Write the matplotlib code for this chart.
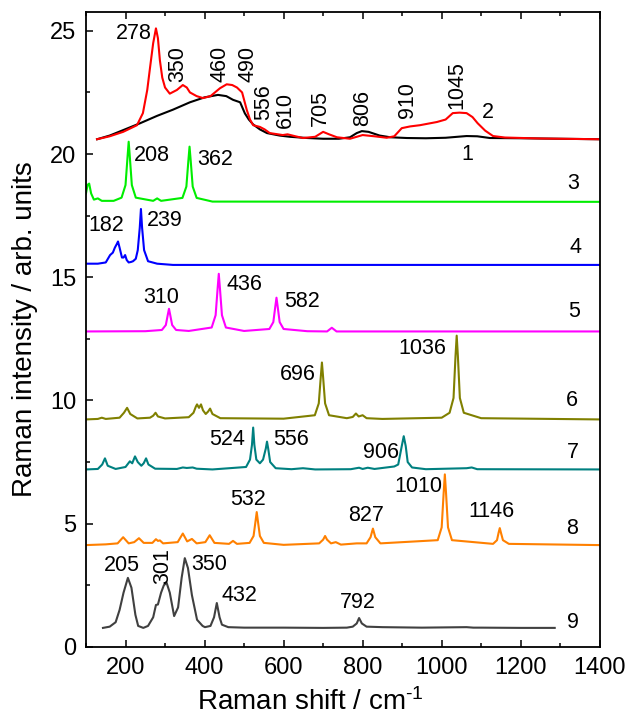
import matplotlib
matplotlib.use("Agg")
import matplotlib.pyplot as plt
from matplotlib.ticker import MultipleLocator

plt.rcParams['font.family'] = ['Liberation Sans', 'DejaVu Sans']
plt.rcParams['mathtext.fontset'] = 'custom'
plt.rcParams['mathtext.rm'] = 'Liberation Sans'
plt.rcParams['mathtext.default'] = 'regular'

# spectrum 1 (black)
x1 = [128, 160, 194, 237, 280, 320, 363, 400, 434, 455, 472, 490, 502, 512, 523, 540, 558, 590, 616, 660,
      700, 740, 768, 785, 798, 815, 843, 870, 912, 960, 1010, 1040, 1063, 1090, 1122, 1200, 1300, 1400]
y1 = [20.6, 20.75, 20.97, 21.25, 21.55, 21.8, 22.1, 22.3, 22.4, 22.35, 22.2, 22.1, 21.65, 21.4, 21.2, 21.0, 20.85, 20.75, 20.7, 20.65,
      20.62, 20.62, 20.68, 20.85, 20.93, 20.9, 20.75, 20.68, 20.65, 20.64, 20.66, 20.7, 20.73, 20.72, 20.65, 20.64, 20.62, 20.6]

# spectrum 2 (red)
x2 = [128, 160, 194, 229, 244, 255, 262, 270, 277, 282, 287, 293, 300, 312, 330, 345, 355, 363, 380, 396,
      415, 439, 456, 470, 482, 495, 507, 515, 523, 540, 552, 565, 598, 610, 630, 649, 680, 700, 715, 735,
      768, 800, 830, 861, 880, 899, 920, 945, 988, 1010, 1028, 1045, 1063, 1078, 1091, 1110, 1130, 1160, 1250, 1400]
y2 = [20.6, 20.72, 20.9, 21.17, 21.66, 22.6, 23.5, 24.5, 25.1, 24.7, 23.8, 23.1, 22.7, 22.45, 22.6, 22.8, 22.7, 22.5, 22.35, 22.27,
      22.35, 22.67, 22.83, 22.8, 22.7, 22.5, 21.78, 21.4, 21.17, 21.1, 21.0, 20.85, 20.77, 20.8, 20.72, 20.65, 20.7, 20.9, 20.8, 20.68,
      20.62, 20.77, 20.72, 20.66, 20.72, 21.05, 21.12, 21.17, 21.3, 21.4, 21.66, 21.68, 21.66, 21.5, 21.25, 20.95, 20.73, 20.67, 20.63, 20.6]

# spectrum 3 (green)
x3 = [100, 104, 108, 113, 120, 130, 140, 170, 190, 200, 205, 208, 211, 216, 226, 270, 280, 290,
      344, 354, 359, 362, 365, 370, 380, 420, 1400]
y3 = [18.4, 18.75, 18.8, 18.4, 18.15, 18.2, 18.1, 18.1, 18.23, 18.74, 19.86, 20.5, 19.86, 18.74, 18.23, 18.1, 18.2, 18.1,
      18.22, 18.68, 19.72, 20.3, 19.72, 18.68, 18.22, 18.07, 18.06]

# spectrum 4 (blue)
x4 = [100, 130, 150, 161, 168, 173, 178, 181, 185, 191, 195, 199, 203, 208, 214, 219, 226, 231, 236, 239,
      242, 247, 257, 280, 320, 1400]
y4 = [15.55, 15.55, 15.6, 15.9, 16.0, 16.2, 16.35, 16.45, 16.2, 15.8, 15.8, 15.9, 15.7, 15.6, 15.62, 15.65, 15.75, 16.1, 17.0, 17.77,
      17.0, 16.1, 15.65, 15.55, 15.5, 15.5]

# spectrum 5 (magenta)
x5 = [100, 250, 292, 302, 307, 310, 313, 318, 328, 360, 418, 428, 433, 436, 439, 444, 454, 500,
      564, 574, 579, 582, 585, 590, 600, 660, 710, 722, 734, 800, 1400]
y5 = [12.8, 12.81, 12.86, 13.06, 13.48, 13.72, 13.48, 13.06, 12.86, 12.82, 12.96, 13.46, 14.53, 15.14, 14.53, 13.46, 12.96, 12.82,
      12.9, 13.18, 13.81, 14.17, 13.81, 13.18, 12.9, 12.81, 12.8, 12.95, 12.8, 12.8, 12.8]

# spectrum 6 (olive)
x6 = [100, 130, 140, 150, 185, 196, 204, 212, 230, 262, 270, 276, 282, 300,
      360, 372, 378, 381, 386, 391, 396, 403, 409, 414, 420, 440,
      600, 679, 689, 694, 697, 700, 705, 715, 760, 775, 783, 790, 800, 810, 850,
      1000, 1020, 1030, 1035, 1038, 1041, 1046, 1056, 1100, 1400]
y6 = [9.23, 9.25, 9.3, 9.25, 9.3, 9.5, 9.7, 9.45, 9.27, 9.3, 9.38, 9.5, 9.35, 9.27,
      9.32, 9.5, 9.75, 9.84, 9.7, 9.84, 9.6, 9.45, 9.55, 9.67, 9.45, 9.28,
      9.26, 9.4, 9.88, 10.94, 11.54, 10.94, 9.88, 9.4, 9.28, 9.33, 9.47, 9.35, 9.4, 9.28, 9.25,
      9.3, 9.5, 10.1, 11.8, 12.63, 11.8, 10.1, 9.5, 9.28, 9.23]

# spectrum 7 (teal)
x7 = [100, 130, 141, 148, 155, 175, 200, 211, 217, 224, 231, 240, 246, 252, 258,
      275, 330, 345, 355, 370, 380, 420, 505, 515, 520, 523, 526, 531, 540,
      548, 555, 558, 561, 566, 580, 620, 649, 680, 770, 791, 800, 813, 830,
      860, 880, 890, 899, 904, 909, 914, 925, 960, 1063, 1076, 1090, 1400]
y7 = [7.2, 7.22, 7.4, 7.65, 7.35, 7.22, 7.3, 7.53, 7.45, 7.73, 7.5, 7.35, 7.45, 7.65, 7.4,
      7.23, 7.22, 7.28, 7.26, 7.28, 7.23, 7.2, 7.3, 7.6, 8.2, 8.9, 8.2, 7.6, 7.45,
      7.6, 8.05, 8.33, 8.05, 7.5, 7.25, 7.21, 7.25, 7.2, 7.21, 7.27, 7.22, 7.27, 7.22,
      7.28, 7.32, 7.4, 8.15, 8.55, 8.15, 7.5, 7.28, 7.21, 7.25, 7.28, 7.21, 7.2]

# spectrum 8 (orange)
x8 = [100, 150, 180, 194, 208, 222, 234, 246, 268, 277, 282, 287, 295, 332, 345, 356, 368, 380,
      402, 413, 425, 462, 472, 482, 514, 524, 529, 532, 535, 540, 550,
      600, 690, 700, 705, 710, 720, 732, 745, 785, 810, 820, 826, 832, 845,
      990, 1000, 1005, 1008, 1011, 1016, 1026, 1130, 1140, 1144, 1147, 1150, 1155, 1170, 1400]
y8 = [4.13, 4.16, 4.2, 4.45, 4.2, 4.25, 4.41, 4.22, 4.22, 4.37, 4.3, 4.32, 4.2, 4.25, 4.6, 4.28, 4.38, 4.2,
      4.25, 4.53, 4.22, 4.18, 4.3, 4.18, 4.22, 4.5, 5.1, 5.47, 5.1, 4.5, 4.22,
      4.14, 4.2, 4.35, 4.5, 4.35, 4.2, 4.25, 4.15, 4.2, 4.2, 4.45, 4.8, 4.45, 4.2,
      4.33, 4.85, 6.25, 7.0, 6.25, 4.85, 4.33, 4.18, 4.33, 4.63, 4.82, 4.63, 4.33, 4.18, 4.13]

# spectrum 9 (dark grey)
x9 = [143, 160, 175, 185, 195, 206, 215, 225, 232, 245, 257, 270, 277, 282, 290, 297, 304, 312, 323, 333,
      342, 350, 358, 368, 381, 395, 401, 415, 424, 431, 438, 444, 460, 500, 600, 700, 760, 775, 785, 791,
      798, 810, 850, 950, 1063, 1080, 1100, 1200, 1286]
y9 = [0.77, 0.82, 1.0, 1.5, 2.2, 2.8, 2.4, 1.3, 0.85, 0.77, 0.85, 1.2, 1.7, 1.72, 2.2, 2.5, 2.6, 2.2, 1.25, 1.6,
      2.8, 3.6, 3.2, 2.1, 1.1, 0.85, 0.8, 0.85, 1.2, 1.78, 1.2, 0.9, 0.8, 0.78, 0.78, 0.77, 0.78, 0.82, 0.95, 1.17,
      0.95, 0.82, 0.8, 0.78, 0.8, 0.78, 0.78, 0.77, 0.77]

colors = ['black', '#ff0000', '#00ee00', '#0000ff', '#ff00ff', '#808000', '#008080', '#ff8000', '#404040']

# peak labels: text, x, y, rotation
labels = [
    ("278", 221, 24.9, 0), ("350", 333, 23.65, 90), ("460", 438, 23.65, 90), ("490", 510, 23.65, 90),
    ("556", 550, 22.1, 90), ("610", 605, 21.8, 90), ("705", 694, 21.85, 90), ("806", 800, 21.85, 90),
    ("910", 914, 22.2, 90), ("1045", 1038, 22.8, 90), ("2", 1116, 21.7, 0), ("1", 1066, 20.0, 0),
    ("208", 267, 19.96, 0), ("362", 426, 19.76, 0), ("3", 1332, 18.8, 0),
    ("182", 151, 17.1, 0), ("239", 300, 17.3, 0), ("4", 1339, 16.2, 0),
    ("310", 290, 14.17, 0), ("436", 500, 14.7, 0), ("582", 646, 14.0, 0), ("5", 1334, 13.6, 0),
    ("1036", 952, 12.1, 0), ("696", 636, 11.05, 0), ("6", 1329, 10.0, 0),
    ("524", 457, 8.4, 0), ("556", 620, 8.4, 0), ("906", 846, 7.9, 0), ("7", 1332, 7.9, 0),
    ("1010", 940, 6.5, 0), ("532", 509, 6.0, 0), ("827", 808, 5.35, 0), ("1146", 1125, 5.5, 0), ("8", 1329, 4.8, 0),
    ("205", 191, 3.3, 0), ("301", 295, 3.28, 90), ("350", 411, 3.36, 0), ("432", 487, 2.07, 0),
    ("792", 788, 1.82, 0), ("9", 1332, 1.0, 0),
]

fig = plt.figure(figsize=(6.3, 7.26), dpi=100)
ax = fig.add_axes([0.1365, 0.109, 0.8155, 0.874])

spectra = [(x1, y1), (x2, y2), (x3, y3), (x4, y4), (x5, y5), (x6, y6), (x7, y7), (x8, y8), (x9, y9)]
for (xs, ys), c in zip(spectra, colors):
    ax.plot(xs, ys, color=c, lw=1.5)

for t, x, y, r in labels:
    ax.text(x, y, t, ha='center', va='center', rotation=r, fontsize=15.5)

ax.set_xlim(100, 1400)
ax.set_ylim(0, 25.75)
ax.xaxis.set_major_locator(MultipleLocator(200))
ax.xaxis.set_minor_locator(MultipleLocator(100))
ax.yaxis.set_major_locator(MultipleLocator(5))
ax.yaxis.set_minor_locator(MultipleLocator(2.5))
ax.tick_params(which='both', direction='in', top=True, right=False, width=1.1)
ax.tick_params(which='major', length=5, labelsize=17, pad=7)
ax.tick_params(which='minor', length=3)
for s in ax.spines.values():
    s.set_linewidth(1.3)

ax.set_xlabel(r"Raman shift / cm$^{\text{-}1}$", fontsize=20)
ax.set_ylabel("Raman intensity / arb. units", fontsize=20)
ax.xaxis.set_label_coords(0.436, -0.065)
ax.yaxis.set_label_coords(-0.093, 0.5)

fig.savefig("out.png", dpi=100)
